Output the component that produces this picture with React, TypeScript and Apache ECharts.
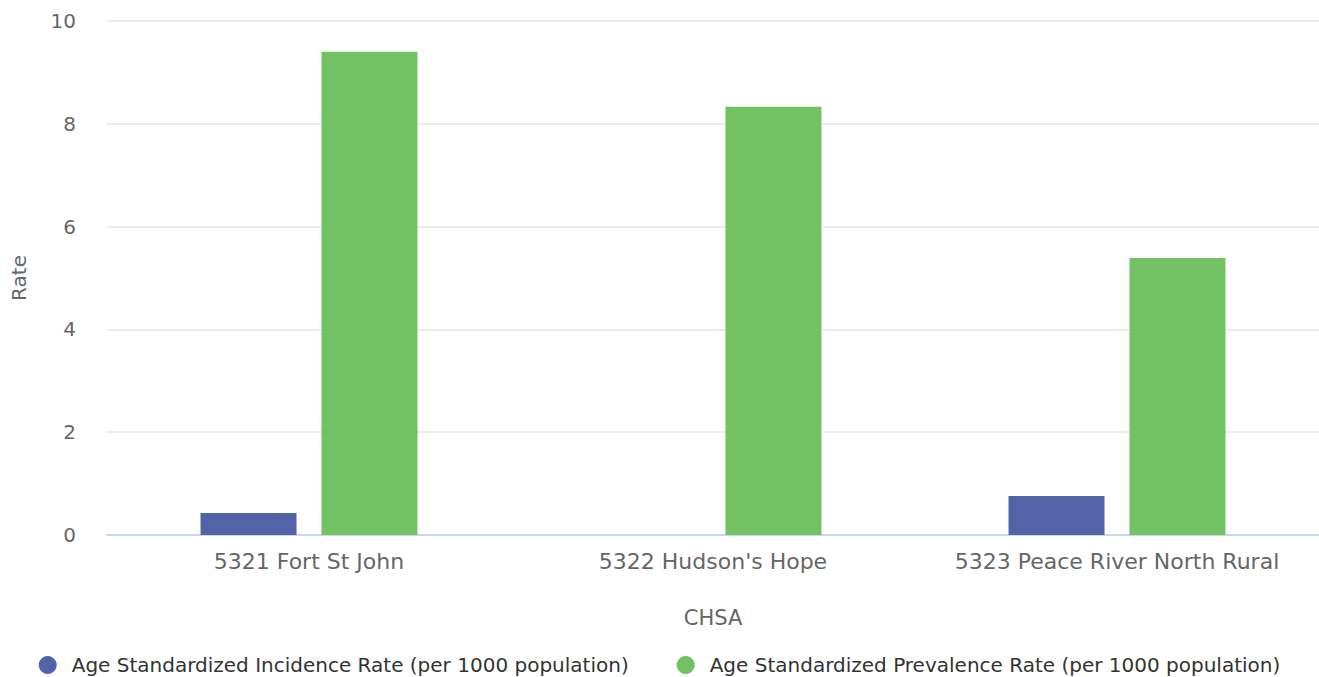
import React, { useEffect, useRef } from "react";
import * as echarts from "echarts";

const categories = ["5321 Fort St John", "5322 Hudson's Hope", "5323 Peace River North Rural"];
const incidence = [0.43, null, 0.76];
const prevalence = [9.4, 8.33, 5.39];
const seriesNames = [
  "Age Standardized Incidence Rate (per 1000 population)",
  "Age Standardized Prevalence Rate (per 1000 population)",
];

const FONT = "DejaVu Sans";

export default function App() {
  const ref = useRef<HTMLDivElement>(null);
  useEffect(() => {
    const chart = echarts.init(ref.current!, null, { renderer: "svg" });
    chart.setOption({
      animation: false,
      textStyle: { fontFamily: FONT },
      grid: { left: 107, right: 0, top: 21, bottom: 142, containLabel: false },
      legend: {
        top: 655,
        left: "center",
        padding: 0,
        icon: "circle",
        itemWidth: 18,
        itemHeight: 18,
        itemGap: 48,
        textStyle: { fontFamily: FONT, fontSize: 20, color: "#333", padding: [0, 0, 0, 10] },
        data: seriesNames,
      },
      xAxis: {
        type: "category",
        data: categories,
        name: "CHSA",
        nameLocation: "middle",
        nameGap: 72,
        nameTextStyle: { fontFamily: FONT, fontSize: 21, color: "#666" },
        axisLine: { lineStyle: { color: "#ccd6eb", width: 2 } },
        axisTick: { show: false },
        axisLabel: { fontFamily: FONT, fontSize: 22, color: "#666", margin: 15, interval: 0 },
      },
      yAxis: {
        type: "value",
        min: 0,
        max: 10,
        interval: 2,
        name: "Rate",
        nameLocation: "middle",
        nameGap: 78,
        nameTextStyle: { fontFamily: FONT, fontSize: 20, color: "#666" },
        axisLine: { show: false },
        axisTick: { show: false },
        splitLine: { lineStyle: { color: "#e6e6e6", width: 1.5 } },
        axisLabel: { fontFamily: FONT, fontSize: 20, color: "#666", margin: 31 },
      },
      series: [
        {
          name: seriesNames[0],
          type: "bar",
          data: incidence,
          barWidth: 96,
          barGap: "26%",
          itemStyle: { color: "#5463a8" },
        },
        {
          name: seriesNames[1],
          type: "bar",
          data: prevalence,
          barWidth: 96,
          itemStyle: { color: "#72c163" },
        },
      ],
    });
    return () => chart.dispose();
  }, []);
  return (
    <div
      ref={ref}
      style={{ position: "fixed", left: 0, top: 0, width: 1319, height: 677, background: "#fff" }}
    />
  );
}
